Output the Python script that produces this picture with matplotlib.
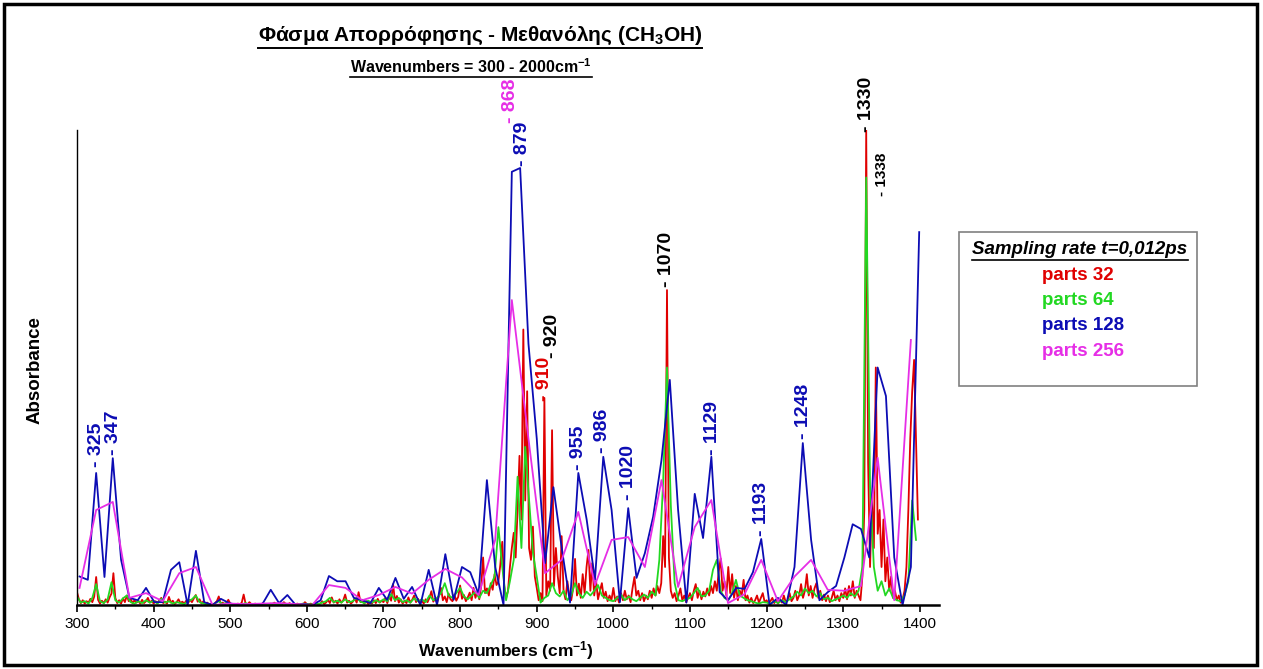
import numpy as np
import matplotlib
matplotlib.use("Agg")
import matplotlib.pyplot as plt
from matplotlib.lines import Line2D
from matplotlib.patches import Rectangle
from matplotlib.ticker import MultipleLocator

plt.rcParams['font.family'] = ['Liberation Sans', 'DejaVu Sans']
plt.rcParams['mathtext.fontset'] = 'custom'
plt.rcParams['mathtext.rm'] = 'Liberation Sans'
plt.rcParams['mathtext.bf'] = 'Liberation Sans:bold'
plt.rcParams['mathtext.it'] = 'Liberation Sans:italic'

# wavenumber grids (cm^-1) of the four FFT resolutions
red_x = 300 + 2.5 * np.arange(440)
green_x = 300 + 5.0 * np.arange(220)
blue_x = 325 + 10.85 * np.arange(-2, 100)
magenta_x = 325 + 21.7 * np.arange(-1, 50)

# parts 32
red_y = [
    2.7, 1.2, 0.4, 1.0, 0.3, 0.8, 0.5, 1.3, 0.6, 1.8, 5.9, 1.1, 0.3, 0.9, 0.4, 1.2, 0.5, 1.6, 2.4, 6.7,
    1.5, 0.4, 1.0, 0.3, 1.4, 0.6, 2.0, 0.8, 1.3, 0.4, 1.0, 0.5, 0.9, 0.3, 1.1, 0.4, 0.8, 1.5, 0.5, 0.9,
    0.3, 0.8, 0.4, 1.0, 1.5, 0.4, 0.7, 0.3, 1.7, 0.5, 0.9, 0.2, 0.6, 1.2, 0.4, 0.7, 0.3, 0.9, 0.4, 1.1,
    0.6, 1.4, 2.1, 0.7, 1.2, 0.3, 0.8, 0.2, 0.5, 0.1, 0.3, 0.1, 0.4, 0.8, 1.8, 0.3, 0.5, 0.2, 0.4, 1.1,
    0.3, 0.1, 0.2, 0.1, 0.3, 0.1, 0.5, 2.2, 0.3, 0.1, 0.6, 0.2, 0.1, 0.3, 0.1, 0.2, 0.1, 0.4, 0.1, 0.2,
    0.1, 0.3, 0.1, 0.5, 0.2, 0.1, 0.3, 0.1, 0.6, 0.2, 0.1, 0.4, 0.1, 0.2, 0.1, 0.3, 0.1, 0.2, 0.1, 0.6,
    0.2, 0.1, 0.3, 0.1, 0.2, 0.5, 0.1, 0.3, 0.8, 0.2, 0.5, 1.1, 0.4, 1.6, 0.5, 0.9, 0.3, 1.2, 0.5, 1.0,
    2.2, 0.5, 0.9, 0.3, 0.7, 1.4, 0.5, 2.7, 0.6, 1.1, 0.3, 0.8, 0.2, 0.6, 0.3, 1.0, 0.4, 1.3, 0.5, 0.9,
    0.6, 1.5, 0.4, 1.8, 0.9, 4.4, 0.8, 1.9, 0.5, 1.2, 0.3, 0.9, 0.4, 1.6, 0.5, 1.1, 2.0, 0.6, 1.3, 0.4,
    0.9, 0.3, 1.2, 0.6, 1.5, 2.9, 0.7, 1.4, 0.5, 2.0, 3.6, 1.0, 1.8, 0.6, 2.4, 1.2, 0.8, 2.2, 0.9, 1.7,
    4.1, 1.3, 2.1, 0.8, 1.6, 2.6, 1.0, 3.6, 1.5, 2.8, 1.2, 4.0, 10.0, 2.5, 3.5, 2.0, 4.6, 3.2, 6.5, 4.2,
    5.0, 8.5, 13.3, 4.0, 1.5, 3.0, 8.0, 12.0, 15.2, 10.0, 20.0, 31.4, 18.0, 58.0, 22.0, 45.0, 12.0, 9.5, 16.5, 6.0,
    3.6, 1.0, 2.5, 0.8, 43.6, 2.0, 5.0, 3.0, 36.8, 4.0, 12.0, 6.0, 2.5, 14.5, 3.0, 1.2, 5.0, 2.0, 1.0, 3.5,
    9.7, 2.0, 4.5, 1.5, 6.5, 2.5, 8.0, 11.6, 3.0, 8.8, 2.0, 5.0, 1.2, 3.0, 4.6, 1.5, 2.8, 0.8, 2.0, 1.0,
    3.6, 0.8, 1.8, 0.5, 2.5, 1.0, 3.0, 1.2, 2.0, 0.6, 3.5, 5.9, 2.0, 3.0, 1.0, 2.5, 0.8, 2.0, 1.2, 3.0,
    1.5, 3.5, 2.0, 4.0, 2.5, 4.6, 14.5, 8.0, 66.3, 10.0, 3.0, 1.5, 2.5, 0.8, 2.0, 3.5, 1.0, 2.0, 0.6, 1.5,
    2.5, 1.0, 3.0, 4.4, 1.5, 3.0, 1.2, 2.8, 1.8, 3.5, 2.0, 4.0, 2.5, 5.0, 3.0, 7.0, 9.8, 3.0, 5.0, 2.0,
    8.0, 2.5, 6.5, 1.5, 4.0, 1.0, 3.0, 2.0, 5.3, 1.0, 2.0, 0.5, 1.5, 0.4, 1.0, 2.0, 0.5, 1.5, 2.5, 0.6,
    1.0, 0.3, 0.8, 1.5, 0.4, 1.0, 0.3, 1.2, 0.5, 2.0, 0.6, 1.0, 2.5, 0.8, 1.5, 3.0, 1.0, 2.0, 4.4, 1.5,
    3.0, 6.5, 2.0, 4.0, 1.5, 3.5, 4.6, 1.5, 3.0, 1.0, 2.2, 0.8, 2.0, 0.6, 1.5, 3.0, 1.0, 2.0, 0.8, 2.5,
    1.5, 3.5, 1.2, 4.0, 2.0, 5.0, 1.5, 3.0, 2.0, 1.0, 6.0, 20.0, 100.0, 30.0, 8.0, 22.0, 12.0, 50.0, 15.0, 20.0,
    8.0, 18.0, 5.0, 10.0, 3.0, 6.0, 1.5, 3.0, 1.0, 2.0, 0.5, 1.2, 3.0, 8.0, 20.0, 35.0, 45.0, 51.6, 35.0, 18.0,
]

# parts 64
green_y = [
    1.8, 0.5, 0.8, 0.3, 1.5, 4.4, 0.8, 0.4, 1.2, 4.8, 1.0, 0.5, 1.4, 2.0, 0.6, 0.3, 0.8, 0.4, 1.0, 0.5,
    0.9, 0.3, 1.3, 0.5, 0.8, 0.3, 0.6, 0.4, 0.2, 0.8, 1.2, 2.0, 0.6, 0.3, 0.2, 0.1, 0.3, 0.8, 0.2, 0.4,
    0.2, 0.1, 0.2, 0.1, 0.4, 0.1, 0.1, 0.2, 0.1, 0.2, 0.1, 0.3, 0.1, 0.2, 0.3, 0.1, 0.2, 0.1, 0.1, 0.3,
    0.2, 0.1, 0.3, 0.2, 0.5, 0.8, 1.5, 0.6, 0.9, 0.5, 1.2, 0.6, 0.8, 1.5, 0.7, 0.4, 0.9, 0.5, 1.0, 0.6,
    1.2, 0.8, 2.3, 1.0, 1.5, 0.6, 1.0, 0.5, 1.4, 0.8, 1.2, 0.6, 2.0, 1.0, 1.5, 2.5, 4.6, 2.0, 1.5, 2.5,
    3.6, 1.8, 1.2, 2.0, 2.8, 1.5, 3.0, 2.5, 4.2, 6.0, 16.4, 8.0, 1.0, 5.0, 9.5, 27.0, 12.0, 33.3, 22.0, 11.0,
    6.0, 0.5, 1.5, 2.0, 4.6, 2.5, 1.8, 3.0, 1.0, 2.0, 4.6, 2.5, 1.5, 2.8, 2.0, 3.0, 4.2, 2.0, 1.5, 1.0,
    0.8, 1.5, 2.2, 1.0, 1.8, 1.2, 0.8, 1.5, 2.2, 1.5, 2.8, 2.0, 9.5, 26.0, 50.0, 21.0, 4.6, 1.0, 0.8, 1.2,
    1.5, 2.5, 3.6, 1.8, 2.0, 3.0, 7.4, 9.5, 3.0, 1.5, 1.0, 2.5, 5.3, 2.0, 1.5, 1.0, 0.8, 0.5, 0.3, 0.6,
    0.5, 0.3, 0.8, 0.4, 1.0, 0.6, 1.2, 1.8, 2.8, 2.0, 3.5, 2.5, 3.0, 1.8, 2.5, 1.2, 1.5, 0.8, 1.2, 1.5,
    2.0, 1.5, 2.5, 1.8, 3.0, 8.0, 90.0, 25.0, 8.0, 3.0, 5.0, 2.0, 3.5, 1.5, 1.0, 0.8, 2.0, 5.0, 22.0, 13.7,
]

# parts 128
blue_y = [
    6.0, 5.3, 27.8, 5.9, 30.9, 9.5, 1.5, 1.0, 3.6, 0.6,
    0.6, 7.4, 9.0, 0.0, 11.4, 0.6, 0.0, 1.3, 0.4, 0.0,
    0.0, 0.2, 0.2, 3.2, 0.4, 2.1, 0.0, 0.2, 0.0, 1.0,
    6.1, 5.0, 5.0, 1.5, 1.0, 0.4, 3.6, 1.1, 5.7, 1.3,
    3.8, 0.0, 7.4, 0.0, 10.7, 1.1, 8.0, 6.9, 2.3, 26.3,
    8.0, 0.0, 91.2, 92.0, 55.0, 35.0, 8.8, 24.8, 12.0, 0.5,
    27.8, 18.0, 5.3, 31.2, 20.0, 0.6, 20.4, 5.7, 10.9, 18.6,
    30.5, 47.4, 20.0, 0.5, 23.4, 14.1, 31.2, 2.7, 1.0, 3.6,
    3.4, 6.9, 13.9, 0.0, 1.5, 0.0, 8.0, 34.1, 13.7, 1.0,
    2.7, 4.0, 10.0, 17.0, 16.0, 10.0, 50.0, 44.0, 10.0, 0.0,
    8.0, 78.5,
]

# parts 256
magenta_y = [
    3.6, 20.0, 21.7, 1.5, 2.5, 0.8, 6.7, 8.0, 0.0, 0.3,
    0.2, 0.3, 0.4, 0.2, 0.0, 4.2, 3.6, 1.0, 2.1, 3.8,
    2.4, 5.3, 7.6, 5.8, 2.1, 13.7, 64.2, 35.0, 6.7, 9.5,
    19.6, 4.2, 13.7, 14.3, 8.0, 26.3, 3.8, 16.4, 22.1, 0.4,
    2.3, 9.5, 0.8, 6.0, 9.5, 3.2, 3.0, 4.0, 31.0, 1.0,
    55.8,
]

series_labels = ['parts 32', 'parts 64', 'parts 128', 'parts 256']
series_colors = ['#e00000', '#22d822', '#0c0cb4', '#e62ee6']

# peak annotations: text, wavenumber, height of the text foot, colour, size
peak_labels = [
    ('325', 325, 29.0, '#0c0cb4', 14),
    ('347', 347, 31.5, '#0c0cb4', 14),
    ('868', 866, 101.5, '#e62ee6', 14),
    ('879', 882, 92.5, '#0c0cb4', 14),
    ('910', 910, 43.0, '#e00000', 14),
    ('920', 921, 52.0, 'black', 14),
    ('955', 955, 28.5, '#0c0cb4', 14),
    ('986', 986, 32.0, '#0c0cb4', 14),
    ('1020', 1020, 22.0, '#0c0cb4', 14),
    ('1070', 1070, 67.0, 'black', 14),
    ('1129', 1129, 31.5, '#0c0cb4', 14),
    ('1193', 1193, 14.5, '#0c0cb4', 14),
    ('1248', 1248, 35.0, '#0c0cb4', 14),
    ('1330', 1330, 99.5, 'black', 14),
    ('1338', 1350, 86.0, 'black', 11),
]


def underline(fig, txt, lw=1.2):
    fig.canvas.draw()
    bb = txt.get_window_extent(renderer=fig.canvas.get_renderer())
    inv = fig.transFigure.inverted()
    (x0, y0), (x1, _) = inv.transform([(bb.x0, bb.y0 - 1), (bb.x1, bb.y0 - 1)])
    fig.add_artist(Line2D([x0, x1], [y0, y0], color='black', lw=lw))


fig = plt.figure(figsize=(12.63, 6.69), dpi=100)
ax = fig.add_axes([77 / 1263, 64 / 669, 862 / 1263, 475 / 669])

xs = [red_x, green_x, blue_x, magenta_x]
ys = [red_y, green_y, blue_y, magenta_y]
for x, y, c, lab in zip(xs, ys, series_colors, series_labels):
    ax.plot(x, y, color=c, lw=1.3, label=lab)

for txt, wn, h, c, fs in peak_labels:
    ax.text(wn, h, '- ' + txt, rotation=90, ha='center', va='bottom',
            color=c, fontsize=fs, fontweight='bold')

ax.set_xlim(300, 1425)
ax.set_ylim(0, 100)
ax.xaxis.set_minor_locator(MultipleLocator(50))
ax.set_xticks(np.arange(300, 1401, 100))
ax.tick_params(axis='x', which='major', direction='out', length=5, width=1.2,
               labelsize=11, pad=4, colors='black')
ax.tick_params(axis='x', which='minor', direction='out', length=3, width=1)
ax.set_yticks([])
for side in ['top', 'right']:
    ax.spines[side].set_visible(False)
ax.spines['bottom'].set_linewidth(1.8)
ax.spines['left'].set_linewidth(1.0)

fig.text(35 / 1263, 1 - 370 / 669, 'Absorbance', rotation=90, ha='center',
         va='center', fontsize=13.5, fontweight='bold')
fig.text(506 / 1263, 1 - 651 / 669, r'Wavenumbers (cm$^{\mathbf{-1}}$)',
         ha='center', va='center', fontsize=12.5, fontweight='bold')

title = fig.text(480 / 1263, 1 - 36 / 669,
                 r'Φάσμα Απορρόφησης - Μεθανόλης (CH$_{\mathbf{3}}$OH)',
                 ha='center', va='center', fontsize=15, fontweight='bold')
subtitle = fig.text(471 / 1263, 1 - 67 / 669,
                    r'Wavenumbers = 300 - 2000cm$^{\mathbf{-1}}$',
                    ha='center', va='center', fontsize=11.5, fontweight='bold')

# legend box
fig.add_artist(Rectangle((959 / 1263, 1 - 386 / 669), 238 / 1263, 154 / 669,
                         transform=fig.transFigure, fill=False,
                         edgecolor='#808080', lw=1.2))
leg_title = fig.text(1080 / 1263, 1 - 250 / 669, 'Sampling rate t=0,012ps',
                     ha='center', va='center', fontsize=13.5,
                     fontweight='bold', fontstyle='italic')
for i, (lab, c) in enumerate(zip(series_labels, series_colors)):
    fig.text(1042 / 1263, 1 - (275 + 25.5 * i) / 669, lab, ha='left',
             va='center', fontsize=13.5, fontweight='bold', color=c)

# frame around the whole figure
fig.add_artist(Rectangle((4 / 1263, 4 / 669), 1253 / 1263, 661 / 669,
                         transform=fig.transFigure, fill=False,
                         edgecolor='black', lw=2.5))

underline(fig, title, lw=1.4)
underline(fig, subtitle, lw=1.2)
underline(fig, leg_title, lw=1.2)

fig.savefig('out.png', dpi=100, facecolor='white')
